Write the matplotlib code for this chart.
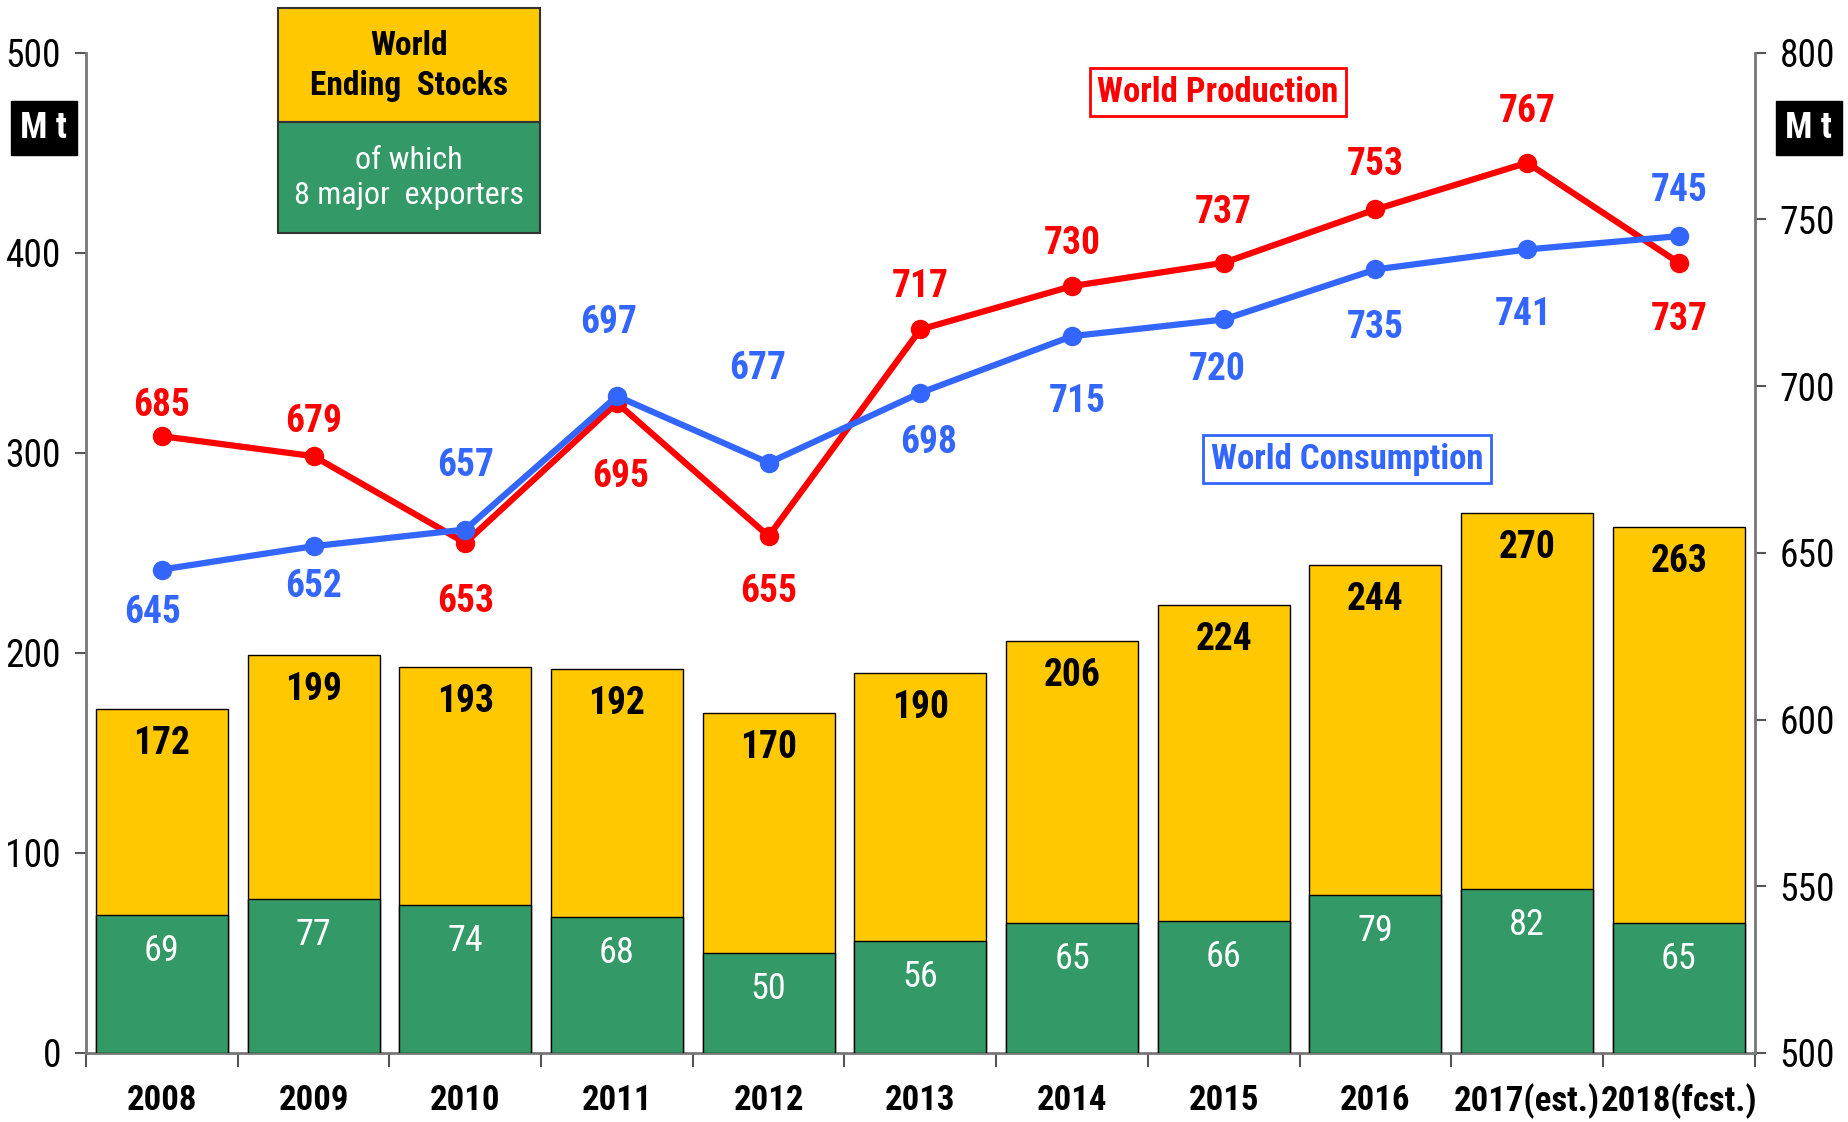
import matplotlib
matplotlib.use("Agg")
import matplotlib.pyplot as plt
from matplotlib.patches import Rectangle
from matplotlib import font_manager as fm
import numpy as np

years = ["2008", "2009", "2010", "2011", "2012", "2013", "2014", "2015", "2016", "2017(est.)", "2018(fcst.)"]
world_stocks = [172, 199, 193, 192, 170, 190, 206, 224, 244, 270, 263]
exporter_stocks = [69, 77, 74, 68, 50, 56, 65, 66, 79, 82, 65]
production = [685, 679, 653, 695, 655, 717, 730, 737, 753, 767, 737]
consumption = [645, 652, 657, 697, 677, 698, 715, 720, 735, 741, 745]

# label offsets (points): (dx, dy)
prod_off = [(0, 22), (0, 25), (0, -42), (3, -53), (0, -40), (0, 31), (0, 31), (0, 36), (0, 32), (0, 37), (0, -41)]
cons_off = [(-7, -31), (0, -29), (0, 46), (-6, 53), (-8, 68), (6, -36), (4, -47), (-5, -36), (0, -42), (-3, -47), (0, 33)]

YELLOW = "#FFC800"
GREEN = "#339966"
RED = "#FF0000"
BLUE = "#3366FF"

# look for a narrow/condensed font (the original uses a narrow sans)
cands = []
for f in fm.fontManager.ttflist:
    nm = f.name
    fn = f.fname.lower()
    is_narrow = ("narrow" in nm.lower() or "condensed" in nm.lower() or "narrow" in fn
                 or "condensed" in fn or str(f.stretch) in ("condensed", "semi-condensed", "extra-condensed"))
    if is_narrow:
        cands.append(f)
prio = ["liberation", "roboto", "open", "noto", "dejavu"]
cands.sort(key=lambda f: next((i for i, p in enumerate(prio) if p in f.name.lower()), 99))
if cands:
    plt.rcParams['font.family'] = [cands[0].name, 'Liberation Sans', 'DejaVu Sans']
    plt.rcParams['font.stretch'] = 'condensed'
    xl_size = 25
else:
    plt.rcParams['font.family'] = ['Liberation Sans', 'DejaVu Sans']
    xl_size = 21

fig = plt.figure(figsize=(18.49, 11.22), dpi=100)
ax = fig.add_axes([0.0465, 0.0615, 0.9025, 0.8915])
x = np.arange(len(years))

ax.bar(x, world_stocks, width=0.87, color=YELLOW, edgecolor="black", linewidth=1.0, zorder=2)
ax.bar(x, exporter_stocks, width=0.87, color=GREEN, edgecolor="black", linewidth=1.0, zorder=3)

for xi, t, g in zip(x, world_stocks, exporter_stocks):
    ax.annotate(str(t), (xi, t), xytext=(0, -25), textcoords="offset points",
                ha="center", va="center", fontsize=27, fontweight="bold", color="black", zorder=5)
    ax.annotate(str(g), (xi, g), xytext=(0, -26), textcoords="offset points",
                ha="center", va="center", fontsize=26, color="white", zorder=5)

ax.set_xlim(-0.5, len(years) - 0.5)
ax.set_ylim(0, 500)
ax.set_yticks([0, 100, 200, 300, 400, 500])
ax.set_xticks(x)
ax.set_xticklabels(years, fontsize=xl_size, fontweight="bold")
ax.set_xticks(np.arange(-0.5, len(years)), minor=True)
ax.tick_params(axis="x", which="major", length=0, pad=22)
ax.tick_params(axis="x", which="minor", length=10, width=1.5, color="#555555")
ax.tick_params(axis="y", labelsize=27, length=8, width=1.5, color="#555555", pad=10)
for s in ["top", "right"]:
    ax.spines[s].set_visible(False)
for s in ["left", "bottom"]:
    ax.spines[s].set_color("#777777")
    ax.spines[s].set_linewidth(2)

ax2 = ax.twinx()
ax2.set_ylim(500, 800)
ax2.set_yticks([500, 550, 600, 650, 700, 750, 800])
ax2.tick_params(axis="y", labelsize=27, length=8, width=1.5, color="#555555", pad=10)
for s in ["top", "left", "bottom"]:
    ax2.spines[s].set_visible(False)
ax2.spines["right"].set_color("#777777")
ax2.spines["right"].set_linewidth(2)

ax2.plot(x, production, color=RED, lw=4.5, marker="o", ms=13, zorder=4)
ax2.plot(x, consumption, color=BLUE, lw=4.5, marker="o", ms=13, zorder=4)
for xi, v, (dx, dy) in zip(x, production, prod_off):
    ax2.annotate(str(v), (xi, v), xytext=(dx, dy), textcoords="offset points",
                 ha="center", va="center", fontsize=27, fontweight="bold", color=RED)
for xi, v, (dx, dy) in zip(x, consumption, cons_off):
    ax2.annotate(str(v), (xi, v), xytext=(dx, dy), textcoords="offset points",
                 ha="center", va="center", fontsize=27, fontweight="bold", color=BLUE)

# Mt boxes
for xc in [44 / 1849, 1809 / 1849]:
    fig.text(xc, 1 - 128 / 1122, "M t", ha="center", va="center", fontsize=26, fontweight="bold",
             color="white", bbox=dict(boxstyle="square,pad=0.25", fc="black", ec="black"))

# stocks legend box
W, H = 1849, 1122
def frect(x0, y0, x1, y1, fc):
    fig.patches.append(Rectangle((x0 / W, 1 - y1 / H), (x1 - x0) / W, (y1 - y0) / H,
                                 transform=fig.transFigure, fc=fc, ec="#333333", lw=1.5))
frect(278, 8, 540, 122, YELLOW)
frect(278, 122, 540, 233, GREEN)
fig.text(409 / W, 1 - 66 / H, "World\nEnding  Stocks", ha="center", va="center",
         fontsize=24, fontweight="bold", color="black", linespacing=1.3)
fig.text(409 / W, 1 - 178 / H, "of which\n8 major  exporters", ha="center", va="center",
         fontsize=23, color="white", linespacing=1.3)

fig.text(1218 / W, 1 - 92 / H, "World Production", ha="center", va="center", fontsize=25,
         fontweight="bold", color=RED,
         bbox=dict(boxstyle="square,pad=0.22", fc="white", ec=RED, lw=2))
fig.text(1347 / W, 1 - 459 / H, "World Consumption", ha="center", va="center", fontsize=25,
         fontweight="bold", color=BLUE,
         bbox=dict(boxstyle="square,pad=0.22", fc="white", ec=BLUE, lw=2))

fig.savefig("out.png", dpi=100)
